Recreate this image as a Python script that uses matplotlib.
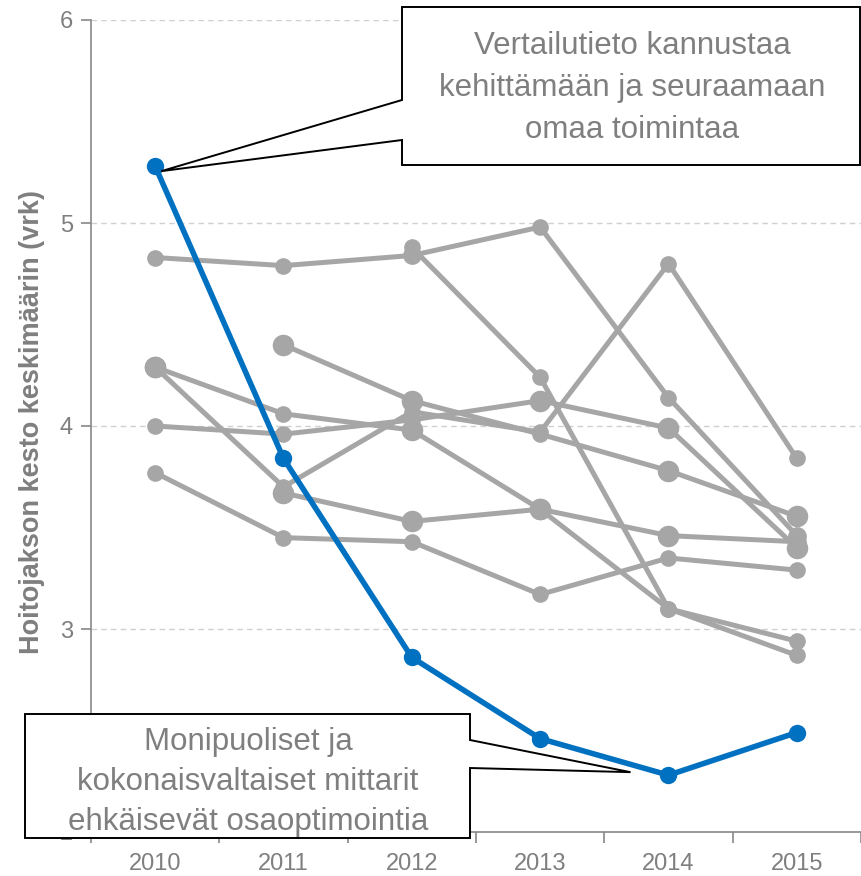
import matplotlib
matplotlib.use("Agg")
import matplotlib.pyplot as plt
import numpy as np
from matplotlib.patches import Polygon
from matplotlib.transforms import IdentityTransform
from matplotlib import font_manager as fm

years = ["2010", "2011", "2012", "2013", "2014", "2015"]
yticks = [2, 3, 4, 5, 6]
nan = np.nan

grey_series = [
    [4.83, 4.79, 4.84, 4.98, 4.14, 3.46],
    [nan, nan, 4.88, 4.24, 3.10, 2.87],
    [nan, 4.40, 4.125, 3.96, 3.78, 3.555],
    [4.29, 4.06, 3.98, 3.59, 3.10, 2.94],
    [4.00, 3.96, 4.03, 4.125, 3.99, 3.40],
    [4.29, 3.70, 4.07, 3.97, 4.80, 3.84],
    [nan, 3.67, 3.53, 3.59, 3.46, 3.43],
    [3.77, 3.45, 3.43, 3.17, 3.35, 3.29],
]
blue_series = [5.28, 3.84, 2.86, 2.46, 2.28, 2.49]

ylabel = "Hoitojakson kesto keskimäärin (vrk)"
note_top = "Vertailutieto kannustaa\nkehittämään ja seuraamaan\nomaa toimintaa"
note_bottom = "Monipuoliset ja\nkokonaisvaltaiset mittarit\nehkäisevät osaoptimointia"

# marker sizes (style), per point
S, M, L = 12.0, 13.5, 15.5
grey_sizes = [
    [S, S, M, S, S, M],
    [S, S, S, S, S, S],
    [L, L, L, S, L, L],
    [L, S, L, L, S, S],
    [S, S, S, L, L, L],
    [L, S, S, S, S, S],
    [L, L, L, L, L, M],
    [S, S, S, S, S, S],
]

GREY = "#A6A6A6"
BLUE = "#0070C0"
TXT = "#7F7F7F"
AX = "#878787"

def has_font(name):
    try:
        fm.findfont(fm.FontProperties(family=name), fallback_to_default=False)
        return True
    except Exception:
        return False

base = "Liberation Sans" if has_font("Liberation Sans") else "DejaVu Sans"
narrow = "Liberation Sans Narrow" if has_font("Liberation Sans Narrow") else base
plt.rcParams["font.family"] = [base, "DejaVu Sans"]

W, H = 862, 876
fig = plt.figure(figsize=(W / 100, H / 100), dpi=100)
ax = fig.add_axes([91 / W, 1 - 832 / H, 770 / W, 812 / H])

x = np.arange(len(years))
for ser, sz in zip(grey_series, grey_sizes):
    ax.plot(x, ser, color=GREY, lw=3.6, solid_capstyle="round", zorder=2)
    for xi, yi, si in zip(x, ser, sz):
        if not np.isnan(yi):
            ax.plot([xi], [yi], "o", color=GREY, ms=si, mew=0, zorder=3)
ax.plot(x, blue_series, color=BLUE, lw=4.0, marker="o", ms=12.5, mew=0, zorder=5)

ax.set_xlim(-0.5, len(years) - 0.5)
ax.set_ylim(2, 6)
ax.set_yticks(yticks)
ax.set_yticklabels([str(v) for v in yticks])
ax.set_xticks(x)
ax.set_xticklabels(years)
ax.set_xticks(np.arange(-0.5, len(years)), minor=True)
ax.tick_params(axis="x", which="major", length=0, pad=15, labelsize=17, labelcolor=TXT)
ax.tick_params(axis="x", which="minor", length=8, width=1.2, color=AX, direction="out")
ax.tick_params(axis="y", length=7, width=1.2, color=AX, pad=6, labelsize=17, labelcolor=TXT)
ax.yaxis.grid(True, linestyle=(0, (4, 3)), color="#D0D0D0", lw=1.0)
ax.set_axisbelow(True)
for s in ["top", "right"]:
    ax.spines[s].set_visible(False)
for s in ["left", "bottom"]:
    ax.spines[s].set_color(AX)
    ax.spines[s].set_linewidth(1.2)

ax.set_ylabel(ylabel, fontsize=19.5, fontweight="bold", color=TXT, family=[narrow, "DejaVu Sans"], va="center")
ax.yaxis.set_label_coords(-0.0766, 0.505)

fig.canvas.draw()

def disp(px, py):
    return (px, H - py)

# top callout
tip1 = ax.transData.transform((0, blue_series[0]))
poly1 = [disp(402, 7), disp(860, 7), disp(860, 165), disp(402, 165), disp(402, 140),
         (tip1[0] + 6, tip1[1] - 5), disp(402, 100)]
fig.patches.append(Polygon(poly1, closed=True, transform=IdentityTransform(), facecolor="white",
                           edgecolor="black", lw=1.4, zorder=10, figure=fig))
fig.text(632 / W, 1 - 88 / H, note_top, ha="center", va="center", fontsize=22.5, color=TXT,
         linespacing=1.5, zorder=11)

# bottom callout
tip2 = ax.transData.transform((4, blue_series[4]))
poly2 = [disp(25, 714), disp(470, 714), disp(470, 740), (tip2[0] - 38, tip2[1] + 3),
         disp(470, 768), disp(470, 838), disp(25, 838)]
fig.patches.append(Polygon(poly2, closed=True, transform=IdentityTransform(), facecolor="white",
                           edgecolor="black", lw=1.4, zorder=10, figure=fig))
fig.text(248 / W, 1 - 782 / H, note_bottom, ha="center", va="center", fontsize=22.5, color=TXT,
         linespacing=1.45, zorder=11)

fig.savefig("out.png", dpi=100)
